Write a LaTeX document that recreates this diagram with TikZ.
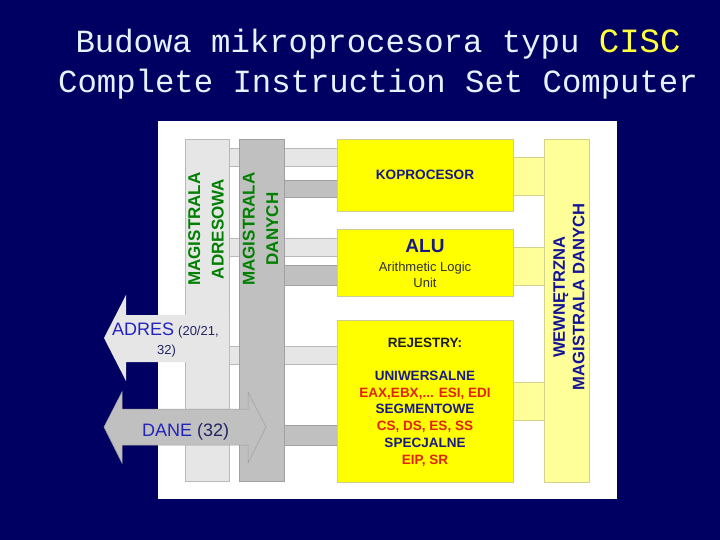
\documentclass[tikz,border=0pt]{standalone}
\usepackage{fontspec}
\setmainfont{Liberation Sans}
\newfontfamily\titlefont{Liberation Mono}
\definecolor{navybg}{RGB}{0,0,98}
\definecolor{titlec}{RGB}{230,242,255}
\definecolor{ciscc}{RGB}{255,255,60}
\definecolor{busA}{RGB}{230,230,230}
\definecolor{busAline}{RGB}{185,185,185}
\definecolor{busD}{RGB}{192,192,192}
\definecolor{busDline}{RGB}{160,160,160}
\definecolor{yelB}{RGB}{255,255,0}
\definecolor{yelBline}{RGB}{205,205,150}
\definecolor{yelL}{RGB}{255,255,153}
\definecolor{yelLline}{RGB}{210,210,140}
\definecolor{grn}{RGB}{0,128,0}
\definecolor{dblue}{RGB}{25,25,130}
\definecolor{ibus}{RGB}{20,20,150}
\definecolor{arrblue}{RGB}{35,35,190}
\definecolor{arrdark}{RGB}{35,35,100}
\definecolor{regred}{RGB}{225,35,10}
\definecolor{regblk}{RGB}{30,30,30}
\definecolor{txtgray}{RGB}{50,50,50}
\tikzset{
  abus/.style={fill=busA, draw=busAline, line width=0.6pt, inner sep=0pt},
  dbus/.style={fill=busD, draw=busDline, line width=0.6pt, inner sep=0pt},
  ylink/.style={fill=yelL, draw=yelLline, line width=0.6pt, inner sep=0pt},
  yblock/.style={fill=yelB, draw=yelBline, line width=0.8pt, inner sep=0pt, minimum width=176pt},
  buslabel/.style={rotate=90, align=center, text=grn, font=\bfseries\fontsize{17}{23.5}\selectfont},
  titletxt/.style={anchor=base, text=titlec, font=\titlefont\fontsize{32.3}{38}\selectfont},
  regtxt/.style={anchor=base, font=\bfseries\fontsize{13.5}{16.7}\selectfont},
}
\begin{document}
\begin{tikzpicture}[x=1pt,y=-1pt]
\useasboundingbox (0,0) rectangle (720,540);
\fill[navybg] (0,0) rectangle (720,540);
% title
\node[titletxt] (t1) at (378,53) {Budowa mikroprocesora typu \textcolor{ciscc}{\fontsize{34}{38}\selectfont CISC}};
\node[titletxt] (t2) at (378,93) {Complete Instruction Set Computer};
% white panel
\fill[white] (158,121) rectangle (617,499);
% address bus links
\filldraw[abus] (220,148) rectangle (340,166);
\filldraw[abus] (220,238) rectangle (340,256);
\filldraw[abus] (220,346) rectangle (340,364);
\node[abus, minimum width=44pt, minimum height=342pt] (ab) at (207,310) {};
% data bus links
\filldraw[dbus] (275,180) rectangle (340,197);
\filldraw[dbus] (275,265) rectangle (340,285);
\filldraw[dbus] (275,425) rectangle (340,445);
\node[dbus, minimum width=45pt, minimum height=342pt] (db) at (261.5,310) {};
% internal bus links
\filldraw[ylink] (505,157) rectangle (550,195);
\filldraw[ylink] (505,247) rectangle (550,285);
\filldraw[ylink] (505,382) rectangle (550,420);
\node[ylink, minimum width=45pt, minimum height=343pt] (ib) at (566.5,310.5) {};
% blocks
\node[yblock, minimum height=72pt] (kop) at (425,175) {};
\node[yblock, minimum height=67pt] (alu) at (425,262.5) {};
\node[yblock, minimum height=162pt] (rej) at (425,401) {};
% arrows
\fill[busA] (104,338) -- (126,295) -- (126,315) -- (229,315) -- (229,362) -- (126,362) -- (126,381) -- cycle;
\filldraw[fill=busD, draw=busDline, line width=0.5pt] (104,427) -- (122,392) -- (122,409) -- (248,409) -- (248,392) -- (266,427) -- (248,463) -- (248,445) -- (122,445) -- (122,463) -- cycle;
% bus labels
\node[buslabel] (abl) at (206,229) {MAGISTRALA\\ADRESOWA};
\node[buslabel] (dbl) at (260.5,229) {MAGISTRALA\\DANYCH};
\node[rotate=90, align=center, text=ibus, font=\bfseries\fontsize{16.6}{19.5}\selectfont] (ibl) at (569,297) {WEWNĘTRZNA\\MAGISTRALA DANYCH};
% block texts
\node[text=dblue, font=\bfseries\fontsize{13.6}{16}\selectfont] (kopt) at (kop) {KOPROCESOR};
\node[anchor=base, text=dblue, font=\bfseries\fontsize{19}{22}\selectfont] (alut) at (425,252) {ALU};
\node[anchor=base, text=txtgray, font=\fontsize{13}{16}\selectfont] (alus1) at (425,271) {Arithmetic Logic};
\node[anchor=base, text=txtgray, font=\fontsize{13}{16}\selectfont] (alus2) at (425,287) {Unit};
\node[regtxt, text=regblk] (r0) at (425,347) {REJESTRY:};
\node[regtxt, text=dblue] (r1) at (425,380) {UNIWERSALNE};
\node[regtxt, text=regred] (r2) at (425,397) {EAX,EBX,... ESI, EDI};
\node[regtxt, text=dblue] (r3) at (425,413.5) {SEGMENTOWE};
\node[regtxt, text=regred] (r4) at (425,430) {CS, DS, ES, SS};
\node[regtxt, text=dblue] (r5) at (425,447) {SPECJALNE};
\node[regtxt, text=regred] (r6) at (425,464) {EIP, SR};
% arrow texts
\node[anchor=base west, inner sep=0pt, text=arrblue, font=\fontsize{18}{20}\selectfont] (adr) at (112,335) {ADRES};
\node[anchor=base west, inner sep=0pt, text=arrdark, font=\fontsize{13}{15}\selectfont] (adr2) at (178,335) {(20/21,};
\node[anchor=base west, inner sep=0pt, text=arrdark, font=\fontsize{13}{15}\selectfont] (adr3) at (157,354) {32)};
\node[anchor=base west, inner sep=0pt, font=\fontsize{18}{20}\selectfont] (dane) at (142,436) {\textcolor{arrblue}{DANE} \textcolor{arrdark}{(32)}};
\end{tikzpicture}
\end{document}
